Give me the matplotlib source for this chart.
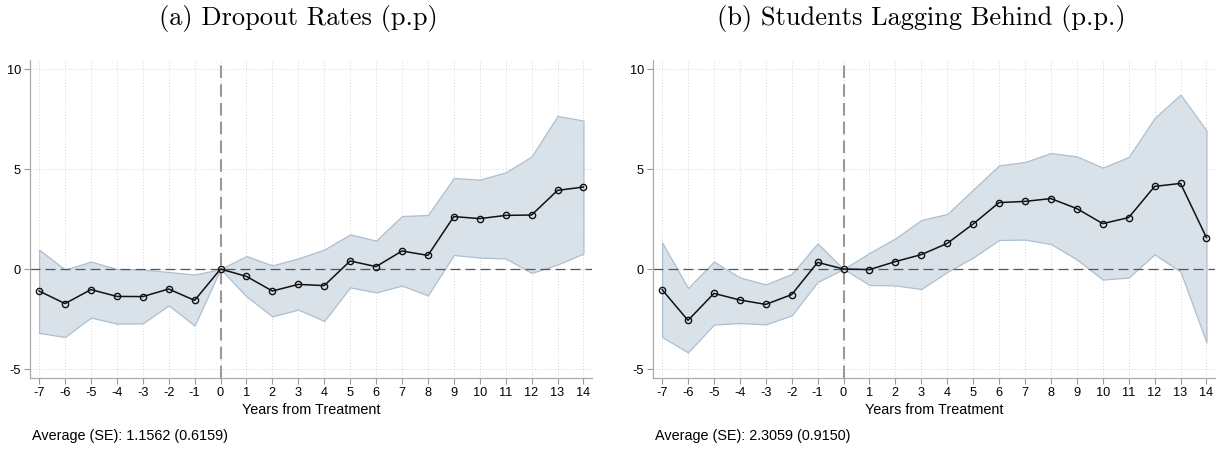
import matplotlib
matplotlib.use("Agg")
import matplotlib.pyplot as plt
import numpy as np

years = list(range(-7, 15))

# (a) dropout rates
drop_est = [-1.10, -1.73, -1.03, -1.37, -1.38, -1.00, -1.57, 0.00, -0.37, -1.10, -0.77,
            -0.83, 0.40, 0.12, 0.90, 0.68, 2.62, 2.52, 2.68, 2.70, 3.93, 4.10]
drop_hi = [0.97, -0.03, 0.37, 0.00, -0.03, -0.15, -0.28, 0.00, 0.65, 0.18, 0.53,
           0.97, 1.73, 1.42, 2.65, 2.70, 4.55, 4.47, 4.83, 5.63, 7.65, 7.42]
drop_lo = [-3.20, -3.40, -2.43, -2.73, -2.72, -1.82, -2.83, 0.00, -1.37, -2.37, -2.03,
           -2.60, -0.92, -1.17, -0.83, -1.32, 0.70, 0.57, 0.53, -0.20, 0.22, 0.77]

# (b) students lagging behind
lag_est = [-1.03, -2.57, -1.22, -1.55, -1.77, -1.28, 0.33, 0.00, -0.03, 0.37, 0.72,
           1.28, 2.25, 3.32, 3.38, 3.52, 3.02, 2.27, 2.57, 4.13, 4.28, 1.57]
lag_hi = [1.33, -0.95, 0.37, -0.42, -0.77, -0.25, 1.28, 0.00, 0.80, 1.53, 2.45,
          2.75, 3.97, 5.18, 5.35, 5.80, 5.63, 5.07, 5.60, 7.55, 8.72, 6.93]
lag_lo = [-3.40, -4.17, -2.78, -2.70, -2.77, -2.32, -0.65, 0.00, -0.80, -0.82, -1.00,
          -0.15, 0.57, 1.45, 1.47, 1.25, 0.48, -0.53, -0.43, 0.73, -0.13, -3.67]

titles = ["(a) Dropout Rates (p.p)", "(b) Students Lagging Behind (p.p.)"]
notes = ["Average (SE): 1.1562 (0.6159)", "Average (SE): 2.3059 (0.9150)"]
yticks = [-5, 0, 5, 10]

W, H = 1225, 449
SANS = ["Liberation Sans", "DejaVu Sans"]

fig = plt.figure(figsize=(W / 100, H / 100), dpi=100)


def px_axes(x0, x1, y0, y1):
    return fig.add_axes([x0 / W, 1 - y1 / H, (x1 - x0) / W, (y1 - y0) / H])


# axes box (px), title centre x, note x
panels = [
    ((30, 592), drop_est, drop_lo, drop_hi, 298),
    ((653, 1215), lag_est, lag_lo, lag_hi, 921),
]

for i, ((x0, x1), est, lo, hi, tx) in enumerate(panels):
    ax = px_axes(x0, x1, 60, 378)
    ax.set_xlim(-7.35, 14.33)
    ax.set_ylim(-5.45, 10.45)
    for xv in years:
        ax.axvline(xv, color="#d4d4d4", lw=0.7, ls=(0, (1, 2)), zorder=0)
    for yv in yticks:
        ax.axhline(yv, color="#d4d4d4", lw=0.7, ls=(0, (1, 2)), zorder=0)
    ax.fill_between(years, lo, hi, facecolor="#d9e1e9", edgecolor="#adbfd0", lw=0.9, zorder=1)
    ax.axhline(0, color="#555555", lw=0.9, ls=(0, (8, 4)), zorder=2)
    ax.axvline(0, color="#999999", lw=1.5, ls=(0, (6, 3)), zorder=2)
    ax.plot(years, est, color="#111111", lw=1.1, marker="o", ms=4.5, mfc="none",
            mec="#111111", mew=1.0, zorder=3)

    ax.set_xticks(years)
    ax.set_xticklabels([str(y) for y in years], family=SANS, fontsize=9.2)
    ax.set_yticks(yticks)
    ax.set_yticklabels([str(y) for y in yticks], family=SANS, fontsize=9.2)
    ax.tick_params(colors="#999999", labelcolor="black", length=4.5, width=0.8, pad=2)
    for s in ("top", "right"):
        ax.spines[s].set_visible(False)
    for s in ("left", "bottom"):
        ax.spines[s].set_color("#aaaaaa")
        ax.spines[s].set_linewidth(0.9)

    fig.text((x0 + x1) / 2 / W, 1 - 414.5 / H, "Years from Treatment", family=SANS,
             fontsize=10.4, ha="center", va="baseline")
    fig.text(tx / W, 1 - 25 / H, titles[i], family="cmr10", fontsize=19,
             ha="center", va="baseline")
    fig.text((x0 + 2) / W, 1 - 440 / H, notes[i], family=SANS, fontsize=10.4,
             ha="left", va="baseline")

fig.savefig("out.png", dpi=100)
